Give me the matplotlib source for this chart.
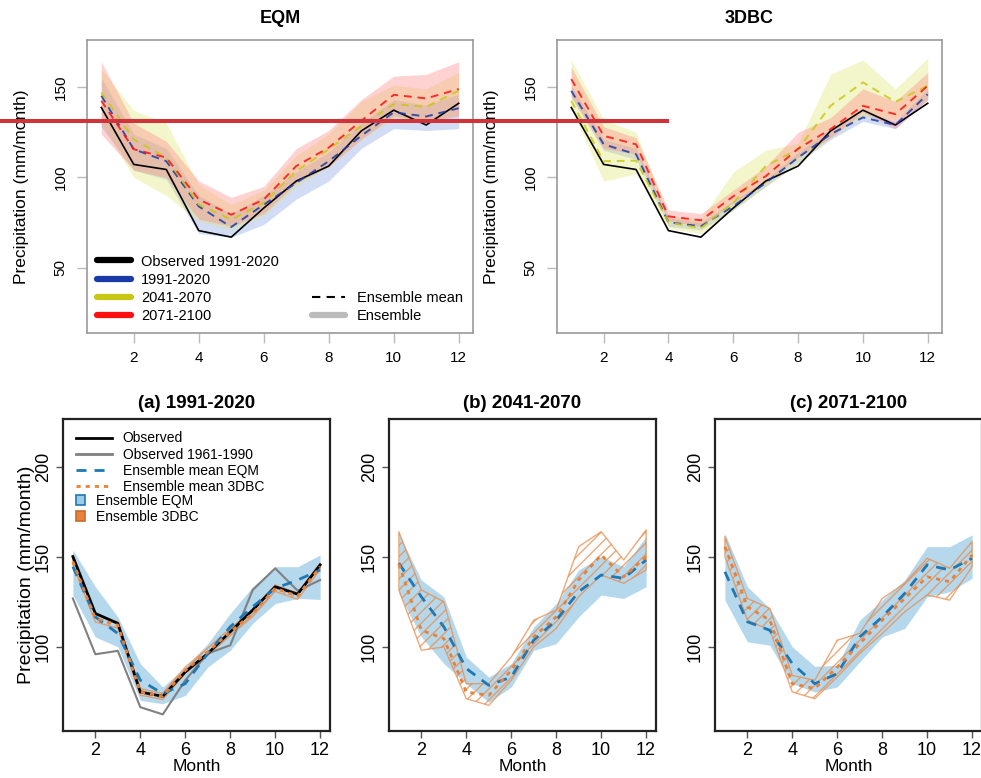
import numpy as np
import matplotlib
matplotlib.use("Agg")
import matplotlib.pyplot as plt
from matplotlib.lines import Line2D
from matplotlib.patches import Patch

plt.rcParams['font.family'] = ['Liberation Sans', 'DejaVu Sans']
plt.rcParams['hatch.linewidth'] = 1.0

months = np.arange(1, 13)

# top row: observed 1991-2020
obs_top = [138.7, 107.2, 104.4, 70.6, 67.0, 83.1, 98.0, 106.3, 125.7, 137.2, 129.0, 141.0]

# EQM ensemble means / ranges (1991-2020, 2041-2070, 2071-2100)
eqm_mean_hist = [145.2, 115.6, 109.0, 84.0, 72.6, 85.0, 97.0, 109.0, 123.0, 136.0, 133.7, 138.3]
eqm_mean_mid = [147.0, 121.0, 111.0, 85.0, 76.7, 86.0, 103.5, 115.6, 128.5, 140.6, 139.0, 148.0]
eqm_mean_end = [142.4, 115.6, 111.0, 87.8, 79.4, 87.8, 106.3, 116.5, 131.3, 145.7, 143.7, 148.9]
eqm_lo_hist = [128, 104, 99, 69, 67, 74, 88, 98, 116, 127, 126, 127]
eqm_hi_hist = [155, 124, 116, 90, 80, 90, 103, 114, 130, 143, 140, 146]
eqm_lo_mid = [130, 100, 90, 76, 71, 79, 95, 106, 121, 133, 131, 135]
eqm_hi_mid = [160, 137, 130, 96, 85, 93, 112, 124, 142, 151, 149, 158]
eqm_lo_end = [124, 104, 100, 77, 73, 80, 97, 106, 121, 134, 131, 134]
eqm_hi_end = [164, 130, 120, 98, 89, 95, 116, 126, 143, 156, 157, 164]

# 3DBC ensemble means / ranges
dbc_mean_hist = [147.9, 118.3, 112.8, 75.2, 73.0, 84.1, 97.0, 111.0, 123.9, 133.2, 129.0, 146.0]
dbc_mean_mid = [142.4, 109.0, 109.3, 75.2, 72.0, 86.0, 106.3, 115.6, 139.6, 152.6, 141.8, 150.7]
dbc_mean_end = [154.4, 123.0, 118.3, 78.5, 76.3, 89.6, 100.7, 115.9, 126.7, 139.6, 135.0, 150.7]
dbc_lo_hist = [144, 115, 110, 73, 71, 82, 95, 108, 121, 131, 127, 143]
dbc_hi_hist = [151, 121, 116, 78, 75, 87, 99, 114, 127, 136, 131, 149]
dbc_lo_mid = [138, 98, 102, 72, 69, 82, 95, 108, 122, 134, 132, 143]
dbc_hi_mid = [165, 132, 125, 79, 77, 103, 115, 119, 157, 165, 149, 166]
dbc_lo_end = [145, 116, 113, 76, 73, 86, 97, 111, 122, 136, 127, 143]
dbc_hi_end = [161, 128, 122, 82, 80, 93, 106, 125, 133, 149, 142, 158]

# bottom row
obs = [150.2, 118.7, 113.2, 75.2, 72.8, 86.3, 96.5, 108.5, 120.6, 133.5, 129.4, 145.6]
obs_6190 = [127.0, 96.1, 98.0, 66.8, 62.8, 81.7, 96.5, 101.1, 131.7, 143.7, 131.3, 137.2]

a_eqm_mean = [144.6, 116.8, 107.6, 81.7, 74.3, 79.8, 96.5, 111.3, 122.4, 132.6, 137.2, 142.8]
a_eqm_lo = [128.9, 105.7, 100.2, 70.6, 68.7, 73.3, 89.0, 98.3, 113.2, 124.2, 127.0, 126.5]
a_eqm_hi = [153.9, 133.5, 116.8, 90.9, 78.0, 89.0, 102.0, 118.7, 133.5, 144.6, 144.6, 151.1]
a_dbc_mean = [147.4, 115.9, 112.2, 75.2, 72.8, 87.2, 97.4, 108.5, 118.7, 132.6, 128.3, 144.6]
a_dbc_lo = [145.5, 114.0, 110.5, 73.5, 71.0, 85.5, 95.5, 106.5, 117.0, 131.0, 126.5, 143.0]
a_dbc_hi = [149.5, 118.0, 114.0, 77.0, 74.5, 89.0, 99.5, 110.5, 120.5, 134.5, 130.0, 146.5]

b_eqm_mean = [146.5, 127.9, 111.3, 88.2, 78.9, 83.5, 103.9, 115.0, 130.7, 140.0, 138.2, 148.3]
b_eqm_lo = [129.8, 105.7, 91.0, 79.8, 69.6, 78.0, 98.3, 102.0, 116.8, 128.9, 127.0, 133.5]
b_eqm_hi = [163.1, 137.2, 127.9, 94.6, 83.5, 91.0, 111.3, 124.2, 142.8, 150.2, 144.6, 161.3]
b_dbc_mean = [146.0, 109.4, 104.8, 75.2, 73.3, 87.2, 105.7, 116.8, 137.2, 151.1, 139.0, 150.2]
b_dbc_lo = [131.7, 98.3, 100.2, 71.5, 67.8, 81.7, 100.2, 110.4, 128.0, 140.0, 135.4, 142.8]
b_dbc_hi = [164.0, 131.7, 125.2, 79.8, 79.8, 94.6, 115.0, 120.6, 155.7, 164.0, 148.3, 165.0]

c_eqm_mean = [141.8, 114.1, 109.4, 90.9, 79.8, 85.4, 105.7, 116.8, 129.8, 145.6, 142.8, 149.3]
c_eqm_lo = [126.1, 103.0, 101.1, 79.8, 75.2, 78.0, 91.9, 105.7, 110.4, 127.9, 130.7, 138.2]
c_eqm_hi = [163.1, 133.5, 121.5, 100.2, 89.4, 90.0, 115.0, 126.1, 137.2, 155.7, 155.7, 162.2]
c_dbc_mean = [155.7, 122.4, 115.0, 79.8, 77.1, 89.0, 102.0, 115.0, 127.0, 139.0, 136.3, 151.1]
c_dbc_lo = [150.2, 115.0, 109.4, 75.2, 71.5, 83.5, 96.5, 107.6, 119.6, 128.9, 126.1, 144.6]
c_dbc_hi = [161.3, 127.0, 121.5, 84.4, 81.7, 103.9, 107.6, 127.0, 135.4, 149.3, 143.7, 158.5]

period_labels = ['1991-2020', '2041-2070', '2071-2100']
top_colors = ['#1a3aa8', '#c8c814', '#ff1010']
band_colors = ['#7f9be0', '#dfe46a', '#ff8080']
band_alpha = [0.35, 0.35, 0.35]

EQM_BLUE = '#1f78b4'
EQM_FILL = '#9ccbe6'
DBC_ORANGE = '#e8823a'


def style_top(ax):
    ax.set_xlim(0.56, 12.44)
    ax.set_ylim(14, 176)
    ax.set_xticks([2, 4, 6, 8, 10, 12])
    ax.set_yticks([50, 100, 150])
    for s in ax.spines.values():
        s.set_color('#999999')
        s.set_linewidth(1.2)
    ax.tick_params(colors='#bbbbbb', labelcolor='black', length=7, width=1,
                   labelsize=11, pad=6)
    ax.tick_params(axis='y', pad=7)
    for lab in ax.get_yticklabels():
        lab.set_rotation(90)
        lab.set_va('center')
    ax.set_ylabel('Precipitation (mm/month)', fontsize=12.5, labelpad=18)


def style_bottom(ax, ylabel=False):
    ax.set_xlim(0.56, 12.44)
    ax.set_ylim(53.6, 226.4)
    ax.set_xticks([2, 4, 6, 8, 10, 12])
    ax.set_yticks([100, 150, 200])
    for s in ax.spines.values():
        s.set_color('#222222')
        s.set_linewidth(1.6)
    ax.tick_params(length=5, width=1, labelsize=13, pad=3, color='#555555')
    for lab in ax.get_yticklabels():
        lab.set_rotation(90)
        lab.set_va('center')
    ax.set_xlabel('Month', fontsize=12.5, labelpad=0)
    if ylabel:
        ax.set_ylabel('Precipitation (mm/month)', fontsize=14, labelpad=0)


def plot_top(ax, means, los, his, title):
    for lo, hi, bcol, al in zip(los, his, band_colors, band_alpha):
        ax.fill_between(months, lo, hi, color=bcol, alpha=al, linewidth=0)
    ax.plot(months, obs_top, color='black', lw=1.2)
    for mean, col in zip(means, top_colors):
        ax.plot(months, mean, color=col, lw=1.4, dashes=(4, 3), alpha=0.85)
    ax.set_title(title, fontsize=13, fontweight='bold', pad=12,
                 family=['Liberation Sans Narrow', 'Liberation Sans', 'DejaVu Sans'])
    style_top(ax)


def plot_bottom(ax, eqm_mean, eqm_lo, eqm_hi, dbc_mean, dbc_lo, dbc_hi, title, first=False):
    ax.fill_between(months, eqm_lo, eqm_hi, color=EQM_FILL, alpha=0.75, linewidth=0)
    ax.fill_between(months, dbc_lo, dbc_hi, facecolor='none',
                    edgecolor=(0.91, 0.55, 0.30, 0.75), hatch='///', linewidth=1.0)
    if first:
        ax.plot(months, obs_6190, color='#808080', lw=1.5)
        ax.plot(months, obs, color='black', lw=2)
    ax.plot(months, eqm_mean, color=EQM_BLUE, lw=2, dashes=(3.6, 2.9))
    ax.plot(months, dbc_mean, color=DBC_ORANGE, lw=2, dashes=(1.5, 1.8))
    ax.set_title(title, fontsize=13.5, fontweight='bold', pad=8)
    style_bottom(ax, ylabel=first)


def main():
    fig = plt.figure(figsize=(9.81, 7.78), dpi=100)
    W, H = 981.0, 778.0

    ax_eqm = fig.add_axes([87 / W, 1 - 333 / H, 386 / W, 293 / H])
    ax_dbc = fig.add_axes([557 / W, 1 - 333 / H, 385 / W, 293 / H])
    plot_top(ax_eqm, [eqm_mean_hist, eqm_mean_mid, eqm_mean_end],
             [eqm_lo_hist, eqm_lo_mid, eqm_lo_end],
             [eqm_hi_hist, eqm_hi_mid, eqm_hi_end], 'EQM')
    plot_top(ax_dbc, [dbc_mean_hist, dbc_mean_mid, dbc_mean_end],
             [dbc_lo_hist, dbc_lo_mid, dbc_lo_end],
             [dbc_hi_hist, dbc_hi_mid, dbc_hi_end], '3DBC')

    # legends on the EQM panel
    h1 = [Line2D([], [], color='black', lw=4.5, solid_capstyle='round')]
    h1 += [Line2D([], [], color=c, lw=4.5, solid_capstyle='round') for c in top_colors]
    leg1 = ax_eqm.legend(h1, ['Observed 1991-2020'] + period_labels, loc='lower left',
                         bbox_to_anchor=(0.0, 0.0), frameon=False, fontsize=10.5,
                         handlelength=2.3, handletextpad=0.7, labelspacing=0.28,
                         borderaxespad=0.3)
    ax_eqm.add_artist(leg1)
    h2 = [Line2D([], [], color='black', lw=1.5, dashes=(4, 3)),
          Line2D([], [], color='#bbbbbb', lw=4.5, solid_capstyle='round')]
    ax_eqm.legend(h2, ['Ensemble mean', 'Ensemble'], loc='lower right',
                  bbox_to_anchor=(1.0, 0.0), frameon=False, fontsize=10.5,
                  handlelength=2.3, handletextpad=0.8, labelspacing=0.28,
                  borderaxespad=0.3)

    ax_a = fig.add_axes([63 / W, 1 - 731 / H, 267 / W, 312 / H])
    ax_b = fig.add_axes([389 / W, 1 - 731 / H, 267 / W, 312 / H])
    ax_c = fig.add_axes([715 / W, 1 - 731 / H, 267 / W, 312 / H])
    plot_bottom(ax_a, a_eqm_mean, a_eqm_lo, a_eqm_hi, a_dbc_mean, a_dbc_lo, a_dbc_hi,
                '(a) 1991-2020', first=True)
    plot_bottom(ax_b, b_eqm_mean, b_eqm_lo, b_eqm_hi, b_dbc_mean, b_dbc_lo, b_dbc_hi,
                '(b) 2041-2070')
    plot_bottom(ax_c, c_eqm_mean, c_eqm_lo, c_eqm_hi, c_dbc_mean, c_dbc_lo, c_dbc_hi,
                '(c) 2071-2100')

    h3 = [Line2D([], [], color='black', lw=2),
          Line2D([], [], color='#808080', lw=2),
          Line2D([], [], color=EQM_BLUE, lw=2, dashes=(3.6, 2.9)),
          Line2D([], [], color=DBC_ORANGE, lw=2, dashes=(1.5, 1.8))]
    leg3 = ax_a.legend(h3, ['Observed', 'Observed 1961-1990', 'Ensemble mean EQM',
                            'Ensemble mean 3DBC'], loc='upper left',
                       bbox_to_anchor=(0.0, 1.0), frameon=False, fontsize=10,
                       handlelength=2.6, handletextpad=0.8, labelspacing=0.15,
                       borderaxespad=0.5)
    ax_a.add_artist(leg3)
    h4 = [Patch(facecolor=EQM_FILL, edgecolor=EQM_BLUE, lw=1.2),
          Patch(facecolor=DBC_ORANGE, edgecolor='#c96a2a', lw=1.2)]
    ax_a.legend(h4, ['Ensemble EQM', 'Ensemble 3DBC'], loc='upper left',
                bbox_to_anchor=(0.0, 0.80), frameon=False, fontsize=10,
                handlelength=0.7, handleheight=0.7, handletextpad=0.8,
                labelspacing=0.15, borderaxespad=0.5)

    # red horizontal marker line across the top row
    fig.add_artist(Line2D([0, 667 / W], [1 - 121 / H, 1 - 121 / H],
                          color='#d0343a', lw=2.9))

    fig.savefig('out.png', dpi=100)


if __name__ == "__main__":
    main()
